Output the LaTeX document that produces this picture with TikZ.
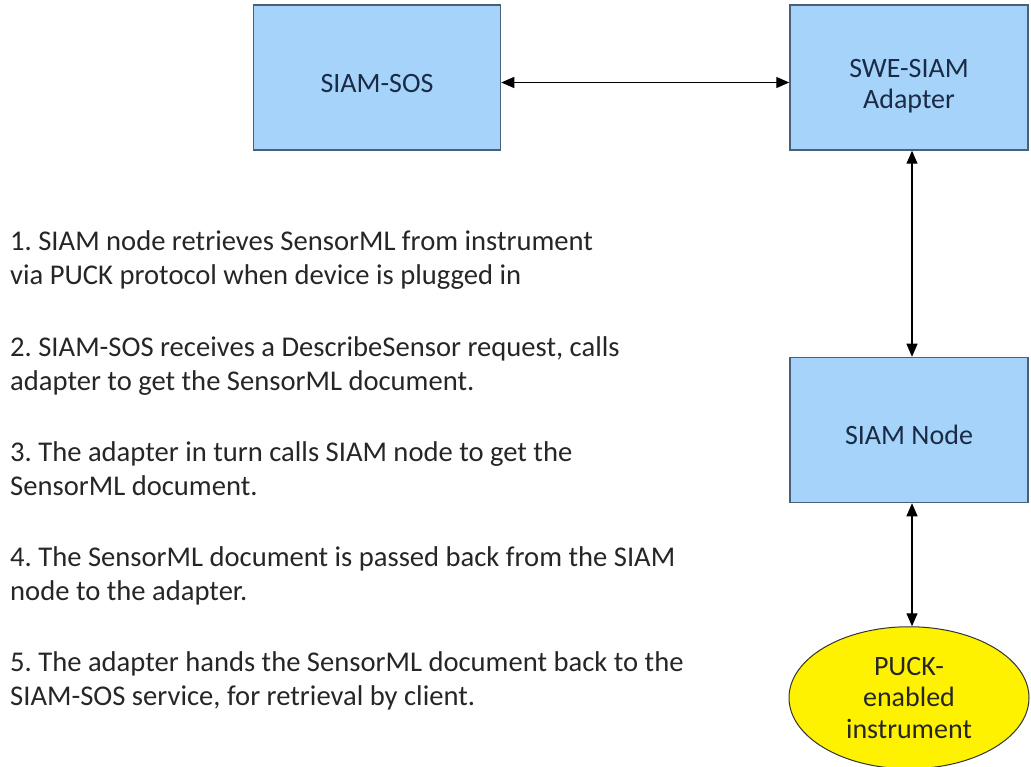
\documentclass[tikz,border=0pt]{standalone}
\usepackage{fontspec}
\setmainfont{Carlito}
\frenchspacing
\usetikzlibrary{shapes, arrows.meta, positioning}
\definecolor{boxblue}{HTML}{A6D3FA}
\definecolor{boxline}{HTML}{4A6076}
\definecolor{boxtext}{HTML}{1A2B45}
\tikzstyle{block} = [rectangle, minimum width=238pt, minimum height=145pt, text centered, text height=30pt, draw=boxline, line width=1.5pt, fill=boxblue, text=boxtext, font=\fontsize{28}{31}\selectfont]
\tikzstyle{device} = [ellipse, minimum width=240pt, minimum height=142pt, inner sep=0pt, text centered, draw=black!80, line width=1pt, fill=yellow, text=black!85, font=\fontsize{28}{31.5}\selectfont]
\tikzstyle{arrow} = [line width=1.3pt, <->, >={Triangle[length=13pt,width=11pt]}]
\tikzstyle{note} = [anchor=base west, align=left, inner sep=0pt, text=black!85, font=\fontsize{28.6}{34}\selectfont]

\begin{document}
\begin{tikzpicture}[align=center]
    \useasboundingbox (0,0) rectangle (1031pt,-767pt);
    \node (adapter) [block, text height=66pt] at (909pt,-77.5pt) {SWE-SIAM\\Adapter};
    \node (sos) [block, minimum width=247pt, left=288pt of adapter] {SIAM-SOS};
    \node (siamnode) [block, below=206pt of adapter] {SIAM Node};
    \node (puck) [device, below=123pt of siamnode] {PUCK-\\enabled\\instrument};

    \draw [arrow] ([yshift=-5pt]sos.east) -- ([yshift=-5pt]adapter.west);
    \draw [arrow] ([xshift=3pt]adapter.south) -- ([xshift=3pt]siamnode.north);
    \draw [arrow] ([xshift=3pt]siamnode.south) -- ([xshift=3pt]puck.north);

    % steps
    \node (step1) [note] at (10pt,-285pt) {1. SIAM node retrieves SensorML from instrument\\via PUCK protocol when device is plugged in};
    \node (step2) [note] at (10pt,-390pt) {2. SIAM-SOS receives a DescribeSensor request, calls\\adapter to get the SensorML document.};
    \node (step3) [note] at (10pt,-495pt) {3. The adapter in turn calls SIAM node to get the\\SensorML document.};
    \node (step4) [note] at (10pt,-600pt) {4. The SensorML document is passed back from the SIAM\\node to the adapter.};
    \node (step5) [note] at (10pt,-705pt) {5. The adapter hands the SensorML document back to the\\SIAM-SOS service, for retrieval by client.};
\end{tikzpicture}
\end{document}
